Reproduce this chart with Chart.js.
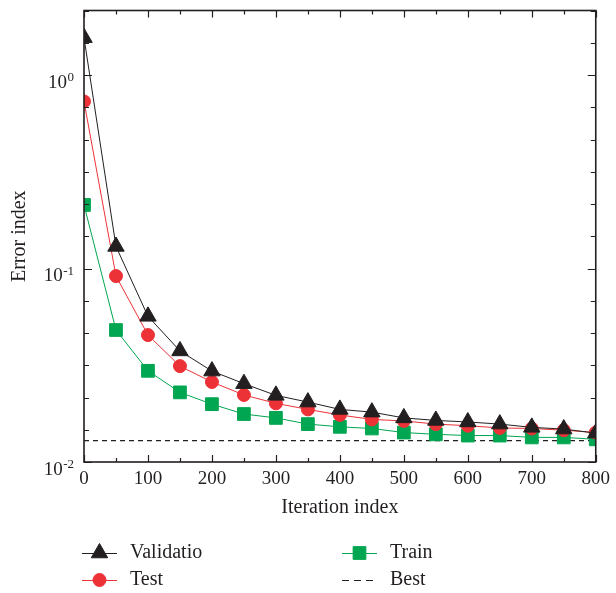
<!DOCTYPE html>
<html>
<head>
<meta charset="utf-8">
<script src="https://cdn.jsdelivr.net/npm/chart.js@4/dist/chart.umd.min.js"></script>
<style>
  html, body { margin: 0; padding: 0; background: #fff; }
  canvas { display: block; }
</style>
</head>
<body>
<canvas id="chartError" width="616" height="593"></canvas>
<script>
// values (log y axis)
const iterations = [0, 50, 100, 150, 200, 250, 300, 350, 400, 450, 500, 550, 600, 650, 700, 750, 800];
const validation = [1.56, 0.130, 0.0566, 0.0375, 0.0295, 0.0254, 0.0221, 0.0204, 0.0187, 0.0181, 0.0169, 0.0164, 0.0161, 0.0157, 0.0151, 0.0148, 0.0141];
const test       = [0.73, 0.0914, 0.0453, 0.0313, 0.0259, 0.0222, 0.0201, 0.0187, 0.0175, 0.0166, 0.0163, 0.0157, 0.0154, 0.0150, 0.0149, 0.0146, 0.0142];
const train      = [0.213, 0.0481, 0.0296, 0.0229, 0.0199, 0.0177, 0.0169, 0.0157, 0.0152, 0.0149, 0.0142, 0.0139, 0.0137, 0.0137, 0.0134, 0.0134, 0.0131];
const bestIters  = [0, 800];
const bestLevel  = [0.0129, 0.0129];
const yDecades   = [0.01, 0.1, 1];
const yDecadeLabels = [['10', '-2'], ['10', '-1'], ['10', '0']];
const xMinorStep = 50;
const yTicksPerDecade = 6;

const ink = '#231f20';
const serif = '"Liberation Serif", "DejaVu Serif", serif';
const pts = ys => iterations.map((x, i) => ({ x, y: ys[i] }));

// markers at the plot edges are cut by the frame
const clipToArea = {
  id: 'clipToArea',
  beforeDatasetsDraw(chart) {
    const { ctx, chartArea: a } = chart;
    ctx.save();
    ctx.beginPath();
    ctx.rect(a.left, a.top, a.right - a.left, a.bottom - a.top);
    ctx.clip();
  },
  afterDatasetsDraw(chart) { chart.ctx.restore(); }
};

// boxed frame with inward ticks on all four sides, plus 10^n labels
const frameTicks = {
  id: 'frameTicks',
  afterDatasetsDraw(chart) {
    const { ctx, chartArea: a, scales: { x, y } } = chart;
    ctx.save();
    ctx.strokeStyle = ink;
    ctx.lineWidth = 1.2;
    ctx.beginPath();
    for (let v = x.min; v <= x.max; v += xMinorStep) {
      const px = Math.round(x.getPixelForValue(v)) + 0.5;
      const len = v % 100 === 0 ? 7 : 4;
      ctx.moveTo(px, a.bottom); ctx.lineTo(px, a.bottom - len);
      ctx.moveTo(px, a.top);    ctx.lineTo(px, a.top + len);
    }
    const kMin = Math.round(Math.log10(y.min) * yTicksPerDecade);
    const kMax = Math.round(Math.log10(y.max) * yTicksPerDecade);
    for (let k = kMin; k <= kMax; k++) {
      const py = Math.round(y.getPixelForValue(Math.pow(10, k / yTicksPerDecade))) + 0.5;
      const len = k % yTicksPerDecade === 0 ? 8 : 5;
      ctx.moveTo(a.left, py);  ctx.lineTo(a.left + len, py);
      ctx.moveTo(a.right, py); ctx.lineTo(a.right - len, py);
    }
    ctx.stroke();
    ctx.lineWidth = 1.6;
    ctx.strokeRect(a.left, a.top, a.right - a.left, a.bottom - a.top);

    ctx.fillStyle = ink;
    ctx.textBaseline = 'alphabetic';
    yDecades.forEach((d, i) => {
      const py = y.getPixelForValue(d);
      const [base, sup] = yDecadeLabels[i];
      ctx.font = '13px ' + serif;
      const supW = ctx.measureText(sup).width;
      const supX = 74 - supW;
      ctx.textAlign = 'left';
      ctx.fillText(sup, supX, py + 6);
      ctx.font = '19px ' + serif;
      ctx.textAlign = 'right';
      ctx.fillText(base, supX - 0.5, py + 12.5);
    });
    ctx.restore();
  }
};

// two-column legend under the axis title
const legendSlots = [[82, 553], [82, 580], [342, 553], [342, 580]];
const boxLegend = {
  id: 'boxLegend',
  afterDraw(chart) {
    const { ctx } = chart;
    ctx.save();
    chart.data.datasets.forEach((ds, i) => {
      const [lx, ly] = legendSlots[i];
      ctx.strokeStyle = ds.borderColor;
      ctx.fillStyle = ds.backgroundColor;
      ctx.lineWidth = ds.borderWidth;
      ctx.setLineDash(ds.borderDash ? [7, 5] : []);
      ctx.beginPath();
      ctx.moveTo(lx, ly + 0.5); ctx.lineTo(lx + 35, ly + 0.5);
      ctx.stroke();
      ctx.setLineDash([]);
      if (ds.pointRadius > 0) {
        Chart.helpers.drawPoint(ctx, { pointStyle: ds.pointStyle, rotation: 0, radius: ds.pointRadius, borderWidth: 1 }, lx + 17.5, ly);
      }
      ctx.fillStyle = ink;
      ctx.font = '20px ' + serif;
      ctx.textAlign = 'left';
      ctx.textBaseline = 'middle';
      ctx.fillText(ds.label, lx + 48, ly);
    });
    ctx.restore();
  }
};

new Chart(document.getElementById('chartError'), {
  type: 'line',
  data: {
    datasets: [
      { label: 'Validatio', data: pts(validation), borderColor: ink, backgroundColor: ink, borderWidth: 1,
        pointStyle: 'triangle', pointRadius: 9.5, pointBorderWidth: 1 },
      { label: 'Test', data: pts(test), borderColor: '#ed3237', backgroundColor: '#ed3237', borderWidth: 1,
        pointStyle: 'circle', pointRadius: 6.5, pointBorderWidth: 1 },
      { label: 'Train', data: pts(train), borderColor: '#00a651', backgroundColor: '#00a651', borderWidth: 1,
        pointStyle: 'rect', pointRadius: 9, pointBorderWidth: 1 },
      { label: 'Best', data: bestIters.map((x, i) => ({ x, y: bestLevel[i] })), borderColor: ink, backgroundColor: ink,
        borderWidth: 1.2, borderDash: [5, 4], pointRadius: 0 }
    ]
  },
  options: {
    responsive: false,
    animation: false,
    devicePixelRatio: 1,
    layout: { padding: { left: 0, right: 15, top: 10, bottom: 68 } },
    plugins: { legend: { display: false }, tooltip: { enabled: false } },
    scales: {
      x: {
        type: 'linear', min: 0, max: 800,
        grid: { display: false, drawTicks: false },
        border: { display: false },
        ticks: { stepSize: 100, padding: 6, color: ink, font: { family: serif, size: 19 } },
        title: { display: true, text: 'Iteration index', color: ink, font: { family: serif, size: 20 }, padding: { top: 0, bottom: 5 } },
        afterFit: s => { s.height = 63; }
      },
      y: {
        type: 'logarithmic', min: 0.01, max: Math.pow(10, 2 / yTicksPerDecade),
        grid: { display: false, drawTicks: false },
        border: { display: false },
        ticks: { display: false },
        title: { display: true, text: 'Error index', color: ink, font: { family: serif, size: 20 }, padding: { top: 8, bottom: 0 } },
        afterFit: s => { s.width = 84; }
      }
    }
  },
  plugins: [clipToArea, frameTicks, boxLegend]
});
</script>
</body>
</html>
